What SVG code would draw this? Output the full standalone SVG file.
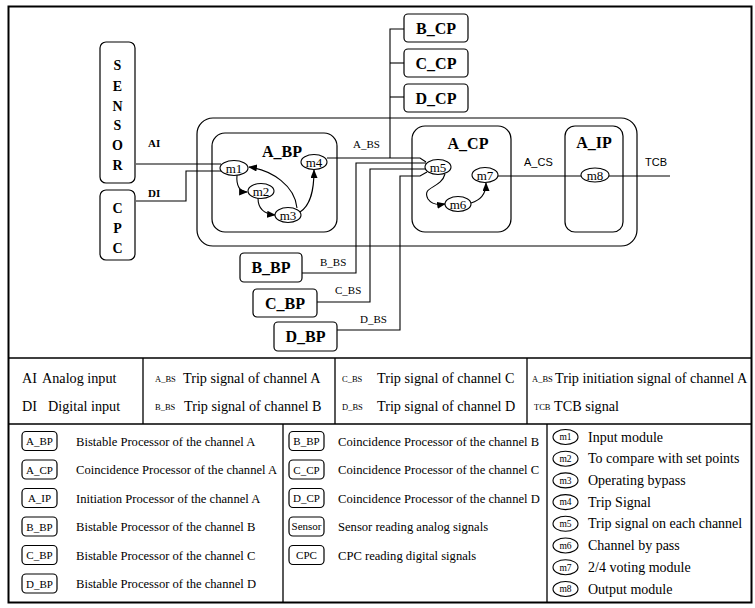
<svg xmlns="http://www.w3.org/2000/svg" width="755" height="608" viewBox="0 0 755 608">
<defs>
<marker id="arr" viewBox="0 0 10 8" refX="9" refY="4" markerWidth="9" markerHeight="7" markerUnits="userSpaceOnUse" orient="auto">
<path d="M0,0 L10,4 L0,8 z" fill="#000"/>
</marker>
</defs>
<style>
.bx{fill:none;stroke:#000;stroke-width:1.2}
.ln{fill:none;stroke:#000;stroke-width:1.1}
.cv{fill:none;stroke:#000;stroke-width:1.1;marker-end:url(#arr)}
.el{fill:#fff;stroke:#000;stroke-width:1.1}
.bl{font-family:"Liberation Serif",serif;font-weight:bold;font-size:16px;text-anchor:middle}
.let{font-family:"Liberation Serif",serif;font-weight:bold;font-size:14px;text-anchor:middle}
.m{font-family:"Liberation Serif",serif;font-size:13px;text-anchor:middle}
.sm{font-family:"Liberation Serif",serif;font-size:11px}
.sb{font-family:"Liberation Serif",serif;font-size:11px;font-weight:bold}
.ss{font-family:"Liberation Sans",sans-serif;font-size:11px}
.l1{font-family:"Liberation Serif",serif;font-size:14.2px}
.l1s{font-family:"Liberation Serif",serif;font-size:8.5px}
.l2{font-family:"Liberation Serif",serif;font-size:12.6px}
.l3{font-family:"Liberation Serif",serif;font-size:14px}
.lb{font-family:"Liberation Serif",serif;font-size:11px;text-anchor:middle}
.lm{font-family:"Liberation Serif",serif;font-size:9.5px;text-anchor:middle}
.frame{fill:none;stroke:#000;stroke-width:2}
.grid{fill:none;stroke:#000;stroke-width:1.3}
</style>
<rect fill="#fff" x="0" y="0" width="755" height="608"/>
<rect class="frame" x="8.5" y="6.5" width="743" height="596"/>

<g id="connectors">
<path class="ln" d="M136 164 L221 164"/>
<path class="ln" d="M136 201 L186 201 L186 171 L221 171"/>
<path class="ln" d="M327 158 L420 158 L426 162"/>
<path class="ln" d="M302 273 L356 273 L356 163 L426 163"/>
<path class="ln" d="M317 302 L370 302 L370 169 L426 169"/>
<path class="ln" d="M337 330 L400 330 L400 176 L420 176 L427 172"/>
<path class="ln" d="M390 158 L390 29 L404 29"/>
<path class="ln" d="M390 63 L404 63"/>
<path class="ln" d="M390 97 L404 97"/>
<path class="ln" d="M498 176 L670 176"/>
<path class="cv" d="M237 175 C236 186 240 192 247 192"/>
<path class="cv" d="M258 198 C258 208 264 214 275 215"/>
<path class="cv" d="M297 208 C295 186 272 170 249 167"/>
<path class="cv" d="M300 212 C311 205 314 190 314 170"/>
<path class="cv" d="M445 174 C441 189 421 186 428 199 C432 205 439 205 445 204"/>
<path class="cv" d="M471 203 C480 200 486 195 486 183"/>
</g>

<g id="sensor">
<rect class="bx" x="100" y="42" width="35" height="141" rx="6"/>
<text class="let" x="117.5" y="70">S</text>
<text class="let" x="117.5" y="91">E</text>
<text class="let" x="117.5" y="111">N</text>
<text class="let" x="117.5" y="130">S</text>
<text class="let" x="117.5" y="150">O</text>
<text class="let" x="117.5" y="170">R</text>
</g>
<g id="cpc">
<rect class="bx" x="100" y="190" width="35" height="70" rx="6"/>
<text class="let" x="117.5" y="213">C</text>
<text class="let" x="117.5" y="233">P</text>
<text class="let" x="117.5" y="253">C</text>
</g>
<g id="channel_a">
<rect class="bx" x="197" y="118" width="440" height="128" rx="16"/>
</g>
<g id="a_bp">
<rect class="bx" x="212" y="133" width="125" height="99" rx="13"/>
<text class="bl" x="282" y="157">A_BP</text>
</g>
<g id="a_cp">
<rect class="bx" x="412" y="126" width="99" height="106" rx="13"/>
<text class="bl" x="468" y="149">A_CP</text>
</g>
<g id="a_ip">
<rect class="bx" x="565" y="126" width="58" height="106" rx="10"/>
<text class="bl" x="594" y="148">A_IP</text>
</g>
<g id="m1"><ellipse class="el" cx="234" cy="168" rx="14" ry="7.5"/><text class="m" x="234" y="172.5">m1</text></g>
<g id="m2"><ellipse class="el" cx="261" cy="191" rx="13" ry="7.5"/><text class="m" x="261" y="195.5">m2</text></g>
<g id="m3"><ellipse class="el" cx="288" cy="215" rx="13" ry="7.5"/><text class="m" x="288" y="219.5">m3</text></g>
<g id="m4"><ellipse class="el" cx="314" cy="162" rx="13" ry="7.5"/><text class="m" x="314" y="166.5">m4</text></g>
<g id="m5"><ellipse class="el" cx="438" cy="167" rx="13" ry="7.5"/><text class="m" x="438" y="171.5">m5</text></g>
<g id="m6"><ellipse class="el" cx="458" cy="204" rx="13" ry="7.5"/><text class="m" x="458" y="208.5">m6</text></g>
<g id="m7"><ellipse class="el" cx="485" cy="175" rx="13" ry="7.5"/><text class="m" x="485" y="179.5">m7</text></g>
<g id="m8"><ellipse class="el" cx="595" cy="175" rx="14" ry="7"/><text class="m" x="595" y="179.5">m8</text></g>
<g id="b_cp"><rect class="bx" x="404" y="14" width="64" height="28" rx="4"/><text class="bl" x="436" y="34">B_CP</text></g>
<g id="c_cp"><rect class="bx" x="404" y="49" width="64" height="28" rx="4"/><text class="bl" x="436" y="69">C_CP</text></g>
<g id="d_cp"><rect class="bx" x="404" y="84" width="64" height="28" rx="4"/><text class="bl" x="436" y="104">D_CP</text></g>
<g id="b_bp"><rect class="bx" x="240" y="253" width="62" height="29" rx="4"/><text class="bl" x="271" y="273">B_BP</text></g>
<g id="c_bp"><rect class="bx" x="253" y="289" width="64" height="28" rx="4"/><text class="bl" x="285" y="309">C_BP</text></g>
<g id="d_bp"><rect class="bx" x="274" y="322" width="63" height="29" rx="4"/><text class="bl" x="305.5" y="342">D_BP</text></g>

<g id="labels">
<text class="sb" x="148" y="147">AI</text>
<text class="sb" x="148" y="197">DI</text>
<text class="sm" x="353" y="148">A_BS</text>
<text class="sm" x="320" y="266">B_BS</text>
<text class="sm" x="335" y="294">C_BS</text>
<text class="sm" x="360" y="323">D_BS</text>
<text class="ss" x="524" y="166">A_CS</text>
<text class="ss" x="645" y="166">TCB</text>
</g>

<g id="legend">
<path class="grid" d="M9 358 L751 358 M9 424 L751 424 M143 358 L143 424 M335 358 L335 424 M527 358 L527 424 M283 424 L283 602 M547 424 L547 602"/>
<text class="l1" x="22" y="383">AI</text>
<text class="l1" x="42" y="383">Analog input</text>
<text class="l1" x="22" y="411">DI</text>
<text class="l1" x="48" y="411">Digital input</text>
<text class="l1s" x="155" y="382">A_BS</text>
<text class="l1" x="183" y="383">Trip signal of channel A</text>
<text class="l1s" x="155" y="410">B_BS</text>
<text class="l1" x="184" y="411">Trip signal of channel B</text>
<text class="l1s" x="342" y="382">C_BS</text>
<text class="l1" x="377" y="383">Trip signal of channel C</text>
<text class="l1s" x="342" y="410">D_BS</text>
<text class="l1" x="377" y="411">Trip signal of channel D</text>
<text class="l1s" x="532" y="382">A_BS</text>
<text class="l1" x="555" y="383" font-size="13.2">Trip initiation signal of channel A</text>
<text class="l1s" x="534" y="410">TCB</text>
<text class="l1" x="554" y="411">TCB signal</text>

<rect class="bx" x="22" y="431.5" width="35" height="19" rx="4"/><text class="lb" x="39.5" y="445">A_BP</text>
<text class="l2" x="76" y="445.5">Bistable Processor of the channel A</text>
<rect class="bx" x="22" y="460" width="35" height="19" rx="4"/><text class="lb" x="39.5" y="473.5">A_CP</text>
<text class="l2" x="76" y="474">Coincidence Processor of the channel A</text>
<rect class="bx" x="22" y="488.5" width="35" height="19" rx="4"/><text class="lb" x="39.5" y="502">A_IP</text>
<text class="l2" x="76" y="502.5">Initiation Processor of the channel A</text>
<rect class="bx" x="22" y="517" width="35" height="19" rx="4"/><text class="lb" x="39.5" y="530.5">B_BP</text>
<text class="l2" x="76" y="531">Bistable Processor of the channel B</text>
<rect class="bx" x="22" y="545.5" width="35" height="19" rx="4"/><text class="lb" x="39.5" y="559">C_BP</text>
<text class="l2" x="76" y="559.5">Bistable Processor of the channel  C</text>
<rect class="bx" x="22" y="574" width="35" height="19" rx="4"/><text class="lb" x="39.5" y="587.5">D_BP</text>
<text class="l2" x="76" y="588">Bistable Processor of the channel D</text>

<rect class="bx" x="289" y="431.5" width="35" height="19" rx="4"/><text class="lb" x="306.5" y="445">B_BP</text>
<text class="l2" x="338" y="445.5">Coincidence Processor of the channel B</text>
<rect class="bx" x="289" y="460" width="35" height="19" rx="4"/><text class="lb" x="306.5" y="473.5">C_CP</text>
<text class="l2" x="338" y="474">Coincidence Processor of the channel C</text>
<rect class="bx" x="289" y="488.5" width="35" height="19" rx="4"/><text class="lb" x="306.5" y="502">D_CP</text>
<text class="l2" x="338" y="502.5">Coincidence Processor of the channel D</text>
<rect class="bx" x="289" y="517" width="35" height="19" rx="4"/><text class="lb" x="306.5" y="529.5" font-size="8.5">Sensor</text>
<text class="l2" x="338" y="531">Sensor reading analog signals</text>
<rect class="bx" x="289" y="545.5" width="35" height="19" rx="4"/><text class="lb" x="306.5" y="559">CPC</text>
<text class="l2" x="338" y="559.5">CPC reading digital signals</text>

<ellipse class="el" cx="565.5" cy="437" rx="12.5" ry="7.5"/><text class="lm" x="565.5" y="440.3">m1</text>
<text class="l3" x="588" y="441.5">Input module</text>
<ellipse class="el" cx="565.5" cy="458.7" rx="12.5" ry="7.5"/><text class="lm" x="565.5" y="462">m2</text>
<text class="l3" x="588" y="463.2">To compare with set points</text>
<ellipse class="el" cx="565.5" cy="480.4" rx="12.5" ry="7.5"/><text class="lm" x="565.5" y="483.7">m3</text>
<text class="l3" x="588" y="484.9">Operating bypass</text>
<ellipse class="el" cx="565.5" cy="502.1" rx="12.5" ry="7.5"/><text class="lm" x="565.5" y="505.4">m4</text>
<text class="l3" x="588" y="506.6">Trip Signal</text>
<ellipse class="el" cx="565.5" cy="523.8" rx="12.5" ry="7.5"/><text class="lm" x="565.5" y="527.1">m5</text>
<text class="l3" x="588" y="528.3">Trip signal on each channel</text>
<ellipse class="el" cx="565.5" cy="545.5" rx="12.5" ry="7.5"/><text class="lm" x="565.5" y="548.8">m6</text>
<text class="l3" x="588" y="550">Channel by pass</text>
<ellipse class="el" cx="565.5" cy="567.2" rx="12.5" ry="7.5"/><text class="lm" x="565.5" y="570.5">m7</text>
<text class="l3" x="588" y="571.7">2/4 voting module</text>
<ellipse class="el" cx="565.5" cy="589" rx="12.5" ry="7.5"/><text class="lm" x="565.5" y="592.3">m8</text>
<text class="l3" x="588" y="593.5">Output module</text>
</g>
</svg>
